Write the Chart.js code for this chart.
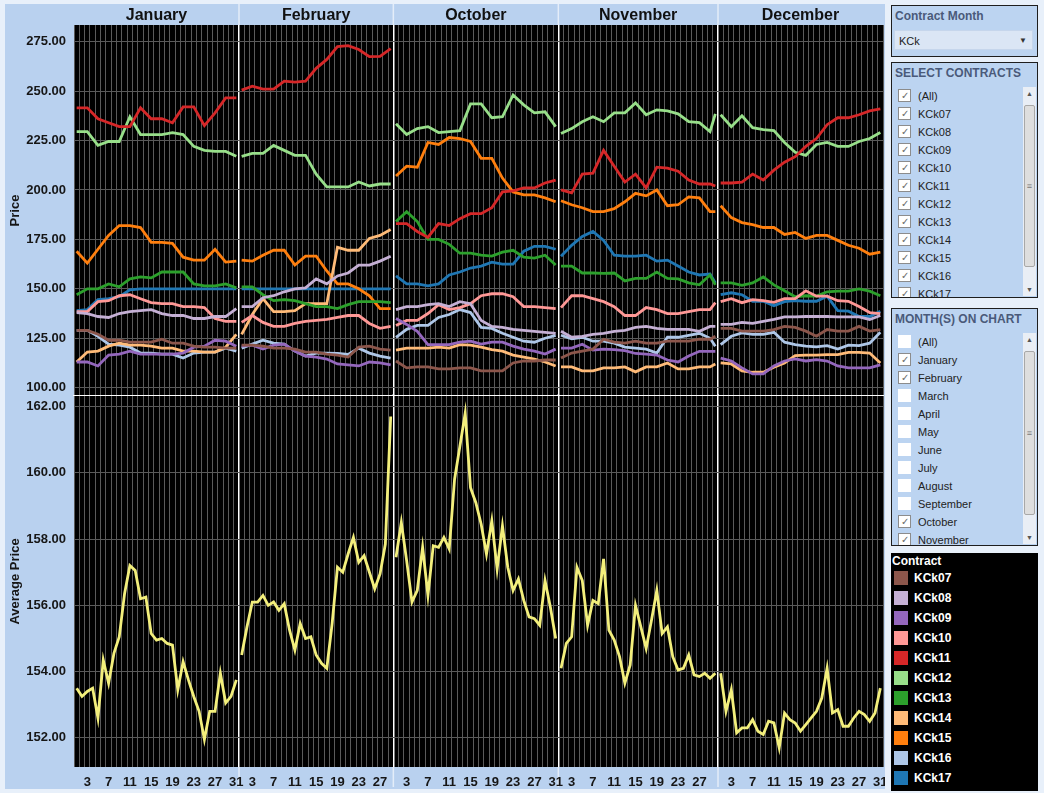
<!DOCTYPE html>
<html>
<head>
<meta charset="utf-8">
<script src="https://cdn.jsdelivr.net/npm/chart.js@4.4.1/dist/chart.umd.min.js"></script>
<style>
  body { margin: 0; width: 1044px; height: 793px; background: #e8f0fa; position: relative; overflow: hidden;
         font-family: Arial, "Liberation Sans", sans-serif; }
  .wrap { position: absolute; left: 5px; width: 880px; background: #b9d1ef; }
  #topWrap { top: 4px; height: 392px; }
  #botWrap { top: 396px; height: 393px; }
  .box { position: absolute; left: 891px; width: 145px; background: #bcd4f1; border: 1px solid #1e1e1e; overflow: hidden; }
  .ttl { position: absolute; left: 3px; top: 3px; font-size: 12px; font-weight: bold; color: #4a5a7a; line-height: 14px; }
  .dd { position: absolute; left: 2px; top: 24px; width: 139px; height: 20px; background: #dbe6f5; border: 1px solid #c6d6ec;
        font-size: 11px; line-height: 20px; color: #222; padding-left: 4px; box-sizing: border-box; }
  .dd span { position: absolute; right: 5px; top: 0; font-size: 8px; color: #333; }
  .list { position: absolute; left: 0; top: 24px; width: 128px; bottom: 0; overflow: hidden; }
  .item { position: relative; height: 18px; font-size: 11px; line-height: 18px; color: #222; }
  .item .cb { position: absolute; left: 6px; top: 2px; width: 13px; height: 13px; background: #fff; box-sizing: border-box;
              border: 1px solid #fff; font-size: 10px; line-height: 12px; text-align: center; color: #6a6a6a; }
  .item .cb.on { border-color: #8c8c8c; }
  .item .lb { position: absolute; left: 26px; top: 0; }
  .sb { position: absolute; right: 1px; top: 24px; width: 13px; bottom: 1px; background: #e9eef5; }
  .sb .a { height: 13px; font-size: 7px; line-height: 13px; text-align: center; color: #555; }
  .sb .th { position: absolute; left: 1px; right: 1px; background: #dedede; border: 1px solid #a8a8a8;
            border-radius: 2px; font-size: 9px; color: #777; text-align: center; }
  .sb .dn { position: absolute; bottom: 0; left: 0; right: 0; }
  #legend { position: absolute; left: 891px; top: 553px; width: 147px; height: 238px; background: #000; }
  #legend .lt { position: absolute; left: 1px; top: 1px; font-size: 12px; font-weight: bold; color: #fff; }
  #legend .li { position: absolute; left: 3px; height: 14px; font-size: 12px; font-weight: bold; color: #fff; line-height: 14px; }
  #legend .sw { position: absolute; left: 0; top: 0; width: 14px; height: 14px; }
  #legend .li span { position: absolute; left: 20px; top: 0; white-space: nowrap; }
</style>
</head>
<body>
<div class="wrap" id="topWrap"><canvas id="topChart"></canvas></div>
<div class="wrap" id="botWrap"><canvas id="botChart"></canvas></div>

<div class="box" style="top:5px;height:50px">
  <div class="ttl">Contract Month</div>
  <div class="dd">KCk<span>&#9660;</span></div>
</div>
<div class="box" style="top:62px;height:234px">
  <div class="ttl">SELECT CONTRACTS</div>
  <div class="list" id="contractList"></div>
  <div class="sb"><div class="a">&#9650;</div><div class="th" style="top:18px;height:160px;line-height:160px">&#8801;</div><div class="a dn">&#9660;</div></div>
</div>
<div class="box" style="top:308px;height:236px">
  <div class="ttl">MONTH(S) ON CHART</div>
  <div class="list" id="monthList"></div>
  <div class="sb"><div class="a">&#9650;</div><div class="th" style="top:18px;height:162px;line-height:162px">&#8801;</div><div class="a dn">&#9660;</div></div>
</div>
<div id="legend"><div class="lt">Contract</div></div>

<script>
// months shown and their lengths
const months = ["January", "February", "October", "November", "December"];
const monthDays = [31, 29, 31, 30, 31];
const dayLabels = [3, 7, 11, 15, 19, 23, 27, 31];
const priceTicks = [100, 125, 150, 175, 200, 225, 250, 275];
const avgTicks = [152, 154, 156, 158, 160, 162];

// days of the month where the contract prices were read
const sampleDays = [
  [1, 3, 5, 7, 9, 11, 13, 15, 17, 19, 21, 23, 25, 27, 29, 31],
  [1, 3, 5, 7, 9, 11, 13, 15, 17, 19, 21, 23, 25, 27, 29],
  [1, 3, 5, 7, 9, 11, 13, 15, 17, 19, 21, 23, 25, 27, 29, 31],
  [1, 3, 5, 7, 9, 11, 13, 15, 17, 19, 21, 23, 25, 27, 29, 30],
  [1, 3, 5, 7, 9, 11, 13, 15, 17, 19, 21, 23, 25, 27, 29, 31]
];

const contracts = ["KCk07", "KCk08", "KCk09", "KCk10", "KCk11", "KCk12", "KCk13", "KCk14", "KCk15", "KCk16", "KCk17"];
const colors = ["#8c564b", "#c5b0d5", "#9467bd", "#ff9896", "#d62728", "#98df8a", "#2ca02c", "#ffbb78", "#ff7f0e", "#aec7e8", "#1f77b4"];

// prices per month (Jan, Feb, Oct, Nov, Dec)
const KCk07 = [
  [129, 129, 127, 124, 124, 123, 123, 123, 124.5, 122.5, 122.5, 121, 120.5, 120.5, 120, 120],
  [121.5, 121.5, 121, 120, 120, 119.5, 118, 118, 117, 116.5, 115.5, 120.5, 121, 119.5, 119],
  [113.5, 110, 110.5, 110.5, 109.5, 109.5, 110, 110, 108.5, 108.5, 108.5, 112.5, 113.5, 113.5, 114, 114],
  [115, 117.5, 118.5, 119.5, 124.5, 123, 122.5, 123.5, 122.5, 122.5, 123.5, 123.5, 123.5, 124.5, 124.5, 126],
  [130, 130, 128.6, 128.6, 128.6, 129.4, 131, 130.5, 128.6, 126, 129.4, 128.6, 128.6, 131, 128.6, 129.4]
];
const KCk08 = [
  [138, 137.5, 136, 135.5, 137.5, 138.5, 139, 139.5, 137.5, 136.5, 136.5, 135, 135, 136, 136, 140],
  [141, 141, 145.5, 146.5, 148.5, 150, 150.5, 155, 152.5, 156.5, 158, 162, 162, 164, 166.5],
  [139.5, 141, 141, 142, 142.5, 141, 143.5, 142.5, 134, 131, 130.5, 129.5, 129, 128.5, 128, 127.5],
  [128.5, 125.5, 126, 127, 127.5, 128.5, 129, 130.5, 131, 130, 129.5, 129.5, 129.5, 128.5, 131, 131],
  [132, 132, 133, 132.5, 133.5, 134.5, 135.8, 135.8, 136, 136, 136, 135.8, 135.8, 135.8, 134.5, 136.5]
];
const KCk09 = [
  [113, 113, 111, 116.5, 117, 118.5, 117, 117, 117, 117, 117.5, 120.5, 121, 124, 123.5, 121],
  [121, 121.5, 119.5, 121.5, 122, 118.5, 116, 115.5, 114.5, 112, 111.5, 111, 113, 112.5, 111.5],
  [135, 132, 128.5, 121.8, 121.8, 121.8, 123, 123.5, 122, 123, 123, 121, 119.5, 118.5, 117, 119.5],
  [120, 120, 122, 119, 119.5, 119.3, 118.7, 117.3, 117, 116.5, 114, 113, 116, 118.4, 118.4, 118.4],
  [115, 113.5, 110, 107, 107, 111, 113.5, 114.6, 113.5, 114.2, 113.5, 111, 110, 110, 110, 111.5]
];
const KCk10 = [
  [138.5, 138.5, 143.5, 144, 146.5, 147, 145, 143, 142.5, 142.5, 141, 141, 140.5, 135, 133.5, 133.5],
  [133, 136.5, 133, 131, 131, 132.5, 133.5, 134, 134.5, 135.5, 136.5, 136.5, 132.5, 130, 131],
  [131.5, 134, 134, 137.5, 142, 139.5, 140.5, 142.5, 146.5, 147.5, 147.5, 146, 141, 141, 140.5, 140],
  [140.5, 146.5, 146.5, 145, 143.5, 141, 136.5, 136.5, 140.5, 139.5, 137.5, 137.5, 138.5, 139.5, 139.5, 143],
  [143.5, 145, 143, 144.5, 144, 143.2, 145, 145, 149, 146.3, 146.3, 144, 143.7, 141, 138, 137.5]
];
const KCk11 = [
  [241.5, 241.5, 236, 234, 232, 232, 241.5, 236, 236, 234, 242, 242, 232.5, 239, 246.5, 246.5],
  [250.5, 252.5, 251, 251, 255, 254.5, 255, 261.5, 266, 272.5, 273, 271, 267.4, 267.5, 271.5],
  [183, 183, 179, 176, 183, 182, 185.5, 188, 188, 191, 199, 199.5, 201, 201, 203.5, 205],
  [200, 198.5, 208, 208.5, 220, 212, 204, 208, 201, 211.5, 211, 209.5, 205, 203, 203, 202],
  [203.5, 203.5, 204, 208, 205, 210, 214, 216.8, 222, 226, 233, 236.5, 236.5, 238, 240, 241]
];
const KCk12 = [
  [229.5, 229.5, 222.5, 224.5, 224.5, 237, 228, 228, 228, 229, 228, 222, 220, 219.5, 219.5, 217],
  [217, 218.5, 218.5, 222.5, 220, 217.5, 217.5, 208, 201.5, 201.5, 201.5, 204, 202, 203, 203],
  [233.5, 228, 231, 232, 229, 229.5, 230, 243.5, 243.5, 236.5, 237, 248, 243, 239, 239.5, 232],
  [228.5, 231, 234.5, 237, 234.5, 239, 239, 244, 238, 240.5, 240, 238.5, 234.5, 234, 229.5, 238.5],
  [238, 232, 237.5, 231.5, 230.5, 230, 224, 219, 217.5, 223, 224, 222, 222, 224.5, 226, 229]
];
const KCk13 = [
  [147, 150, 150, 152.5, 151, 155, 156, 155.5, 158.5, 158.5, 158.5, 152.5, 151.5, 151.5, 152.5, 150.5],
  [151, 151, 147, 144, 144.5, 144, 142.5, 141, 141, 140, 142, 143.5, 143.5, 143.5, 143],
  [184, 189, 184, 175, 175, 172.5, 168, 168, 167, 166.5, 168.5, 169.5, 166, 165.5, 167, 162],
  [161.5, 161.5, 158, 158, 157.8, 158, 154, 155.3, 155.3, 158.5, 155.3, 155, 153, 152, 157, 152],
  [153, 153, 151.8, 153, 156, 152, 149, 146, 146.5, 146.3, 148.5, 148.8, 148.8, 150, 148.8, 146.5]
];
const KCk14 = [
  [113, 118, 118.5, 121, 122.5, 121.5, 121.5, 121, 120, 120, 118.5, 118.5, 118, 118, 120.5, 127],
  [127, 137, 145, 138.5, 138.5, 139, 142.5, 142.5, 142.5, 171, 169.5, 169.5, 175.5, 177, 180],
  [119, 120, 120, 120, 120.5, 120, 121.8, 121.5, 120.5, 119.3, 118.5, 116.5, 115.5, 114.5, 113, 111],
  [110.5, 110.5, 108.5, 108.5, 110, 110, 110.5, 108, 110.5, 110.5, 112.5, 109.5, 109.5, 110.5, 110.5, 112],
  [112.5, 112, 108.5, 107.8, 107.8, 110.3, 112.5, 116.2, 116.5, 116.5, 116.7, 116.7, 117.9, 117.9, 117.5, 112.5]
];
const KCk15 = [
  [169, 163, 170, 177, 182, 182, 181, 173.5, 173.5, 173, 166, 164.5, 164.5, 170, 163.5, 164],
  [164.5, 164, 167, 169.5, 169.5, 162, 166.5, 166.5, 159, 152.5, 152.5, 150, 146.5, 140, 140],
  [207, 212, 211.5, 224, 223, 226.5, 226, 224.5, 216, 216, 206, 199, 197.5, 197.5, 196, 194],
  [194.5, 192.5, 191, 189, 189, 190.5, 194, 198.3, 197, 200, 192, 192.5, 196.5, 196, 189, 189],
  [192, 186, 183.5, 182.5, 181, 181, 177.5, 178.5, 175.5, 177, 177, 174.5, 172, 170.5, 167.5, 168.5]
];
const KCk16 = [
  [129, 129, 126, 122, 121.5, 120.5, 117.5, 117.5, 117, 117, 115, 117.5, 118, 118, 120, 118.5],
  [120, 122, 124, 122.5, 122, 118.5, 116, 117.5, 117.5, 117.3, 116.8, 120, 117.5, 116, 115],
  [125.5, 129.5, 131.5, 131.5, 135.5, 137, 139.5, 138, 130.5, 130, 127.5, 125.5, 123.5, 123, 125, 126.5],
  [126.5, 124.7, 125.5, 123.5, 123.5, 122.5, 120.5, 120, 119.5, 117.5, 125.5, 125.5, 126.5, 127.5, 125, 121],
  [121.8, 126, 127.7, 127, 127, 128, 123, 121.8, 121, 120.6, 121.3, 119.5, 121.5, 121.3, 122.5, 128]
];
const KCk17 = [
  [139, 139.5, 144.5, 145, 146, 149.5, 150, 150, 150, 150, 150, 150, 150, 150, 150, 150],
  [150, 150, 150, 150, 150, 150, 150, 150, 150, 150, 150, 150, 150, 150, 150],
  [156.5, 152.5, 152.5, 151.5, 152.5, 157, 158.5, 160.5, 161.5, 163.5, 162.5, 162.5, 169, 171.5, 171.5, 170],
  [166.5, 172, 176.5, 179, 174.5, 167, 166.5, 166.5, 167, 164, 164.5, 161.5, 158.5, 157, 157.5, 153],
  [147, 148, 147, 143.7, 143.7, 141.5, 143.5, 144, 143.7, 143.7, 146.3, 139, 138.7, 136, 136, 138.7]
];
const contractSeries = [KCk07, KCk08, KCk09, KCk10, KCk11, KCk12, KCk13, KCk14, KCk15, KCk16, KCk17];

// average price, one value per calendar day
const avgPrice = [
  [153.5, 153.25, 153.4, 153.5, 152.6, 154.35, 153.65, 154.55, 155.05, 156.35, 157.2, 157.05, 156.2, 156.25, 155.15, 154.95,
   155.0, 154.85, 154.8, 153.45, 154.3, 153.75, 153.25, 152.8, 151.95, 152.8, 152.8, 153.95, 153.05, 153.25, 153.75],
  [154.5, 155.35, 156.1, 156.1, 156.3, 156.0, 156.1, 155.85, 156.05, 155.25, 154.65, 155.45, 155.0, 155.05, 154.5, 154.25,
   154.1, 155.45, 157.15, 157.0, 157.55, 158.05, 157.3, 157.5, 157.0, 156.5, 156.95, 157.85, 161.7],
  [157.45, 158.5, 157.35, 156.1, 156.45, 157.75, 156.3, 157.8, 157.75, 158.05, 157.7, 159.8, 160.8, 161.8, 159.55, 159.1,
   158.45, 157.55, 158.55, 157.1, 158.4, 157.15, 156.45, 156.8, 156.15, 155.65, 155.6, 155.4, 156.75, 155.95, 155.0],
  [154.1, 154.85, 155.05, 157.15, 156.75, 155.4, 156.15, 156.05, 157.4, 155.25, 154.95, 154.45, 153.65, 154.2, 156.0, 155.35,
   154.7, 155.55, 156.45, 155.15, 155.35, 154.45, 154.05, 154.1, 154.5, 153.9, 153.85, 153.95, 153.8, 153.95],
  [153.95, 152.8, 153.45, 152.15, 152.3, 152.3, 152.55, 152.2, 152.1, 152.5, 152.45, 151.7, 152.75, 152.55, 152.45, 152.2,
   152.4, 152.6, 152.8, 153.2, 154.1, 152.75, 152.85, 152.35, 152.35, 152.6, 152.8, 152.7, 152.5, 152.75, 153.5]
];

const monthFilter = ["(All)", "January", "February", "March", "April", "May", "June", "July", "August", "September", "October", "November", "December"];

// ---- layout helpers ----
const offsets = [];
monthDays.reduce((acc, n, i) => { offsets[i] = acc; return acc + n; }, 0);
const totalDays = monthDays.reduce((a, b) => a + b, 0);
const monthEdges = offsets.slice(1);

function toPoints(perMonth, daysOf) {
  const pts = [];
  perMonth.forEach((vals, m) => {
    vals.forEach((v, i) => pts.push({ x: offsets[m] + daysOf(m, i) - 0.5, y: v }));
    pts.push({ x: offsets[m] + monthDays[m], y: null });
  });
  return pts;
}

const dayTicks = [];
months.forEach((m, i) => dayLabels.filter(d => d <= monthDays[i]).forEach(d => dayTicks.push({ x: offsets[i] + d - 0.5, d })));

Chart.defaults.font.family = 'Arial, "Liberation Sans", sans-serif';
Chart.defaults.animation = false;

// black plot area, plus the light month dividers in the header / footer bands (under the labels)
const blackPanel = {
  id: 'blackPanel',
  beforeDraw(chart) {
    const { ctx, chartArea: a, scales } = chart;
    ctx.save();
    ctx.fillStyle = '#000';
    ctx.fillRect(a.left, a.top, a.width, a.height);
    ctx.strokeStyle = '#e4edf9';
    ctx.lineWidth = 1.5;
    monthEdges.forEach(v => {
      const px = scales.x.getPixelForValue(v);
      ctx.beginPath();
      ctx.moveTo(px, 0); ctx.lineTo(px, a.top);
      ctx.moveTo(px, a.bottom); ctx.lineTo(px, chart.height - 2);
      ctx.stroke();
    });
    ctx.restore();
  }
};

function noPad(s) { s.paddingLeft = 0; s.paddingRight = 0; s.paddingTop = 0; s.paddingBottom = 0; }

function dayGrid(borderColor) {
  return {
    type: 'linear', position: 'bottom', min: 0, max: totalDays,
    afterBuildTicks: s => { s.ticks = Array.from({ length: totalDays + 1 }, (_, i) => ({ value: i })); },
    afterFit: s => { s.height = 0; noPad(s); },
    ticks: { display: false },
    grid: {
      drawTicks: false,
      color: c => monthEdges.includes(c.tick.value) ? '#ffffff' : '#5a5a5a',
      lineWidth: c => monthEdges.includes(c.tick.value) ? 1.5 : 1
    },
    border: { display: !!borderColor, color: borderColor || '#000', width: 2 }
  };
}

function valueAxis(min, max, tickVals, title) {
  return {
    type: 'linear', position: 'left', min, max,
    afterBuildTicks: s => { s.ticks = tickVals.map(v => ({ value: v })); },
    afterFit: s => { s.width = 69; noPad(s); },
    ticks: { callback: v => v.toFixed(2), color: '#161616', font: { size: 13, weight: 'bold' }, padding: 8 },
    grid: { drawTicks: false, color: '#5a5a5a' },
    border: { display: false },
    title: { display: true, text: title, color: '#161616', font: { size: 13, weight: 'bold' }, padding: { top: 3, bottom: 0 } }
  };
}

const common = {
  responsive: true,
  maintainAspectRatio: false,
  layout: { padding: { left: 0, right: 2, top: 0, bottom: 0 } },
  plugins: { legend: { display: false }, tooltip: { enabled: false } },
  elements: { point: { radius: 0 }, line: { borderWidth: 2.8, tension: 0 } }
};

// top: price per contract
new Chart(document.getElementById('topChart'), {
  type: 'line',
  data: {
    datasets: contracts.map((name, k) => ({
      label: name,
      data: toPoints(contractSeries[k], (m, i) => sampleDays[m][i]),
      borderColor: colors[k],
      spanGaps: false
    }))
  },
  options: {
    ...common,
    scales: {
      x: dayGrid('#ffffff'),
      xm: {
        type: 'linear', position: 'top', min: 0, max: totalDays,
        afterBuildTicks: s => { s.ticks = months.map((_, i) => ({ value: offsets[i] + monthDays[i] / 2 })); },
        afterFit: s => { s.height = 21; noPad(s); },
        ticks: { callback: (v, i) => months[i], autoSkip: false, maxRotation: 0, color: '#111', font: { size: 16, weight: 'bold' }, padding: -8 },
        grid: { display: false },
        border: { display: false }
      },
      y: valueAxis(95.8, 283.4, priceTicks, 'Price')
    }
  },
  plugins: [blackPanel]
});

// bottom: average price
new Chart(document.getElementById('botChart'), {
  type: 'line',
  data: {
    datasets: [{
      label: 'Average Price',
      data: toPoints(avgPrice, (m, i) => i + 1),
      borderColor: '#f3ef7c',
      spanGaps: false
    }]
  },
  options: {
    ...common,
    scales: {
      x: dayGrid(null),
      xd: {
        type: 'linear', position: 'bottom', min: 0, max: totalDays,
        afterBuildTicks: s => { s.ticks = dayTicks.map(t => ({ value: t.x })); },
        afterFit: s => { s.height = 22; noPad(s); },
        ticks: { callback: (v, i) => String(dayTicks[i].d), autoSkip: false, maxRotation: 0, color: '#161616', font: { size: 13, weight: 'bold' }, padding: 0 },
        grid: { display: false },
        border: { display: false }
      },
      y: valueAxis(151.12, 162.32, avgTicks, 'Average Price')
    }
  },
  plugins: [blackPanel]
});

// filter lists and legend
function fillList(id, names, isOn) {
  const el = document.getElementById(id);
  names.forEach(n => {
    const on = isOn(n);
    el.insertAdjacentHTML('beforeend',
      `<div class="item"><div class="cb${on ? ' on' : ''}">${on ? '&#10003;' : ''}</div><div class="lb">${n}</div></div>`);
  });
}
fillList('contractList', ['(All)', ...contracts], () => true);
fillList('monthList', monthFilter, n => months.includes(n));

const legend = document.getElementById('legend');
contracts.forEach((name, k) => {
  legend.insertAdjacentHTML('beforeend',
    `<div class="li" style="top:${18 + k * 20}px"><div class="sw" style="background:${colors[k]}"></div><span>${name}</span></div>`);
});
</script>
</body>
</html>
